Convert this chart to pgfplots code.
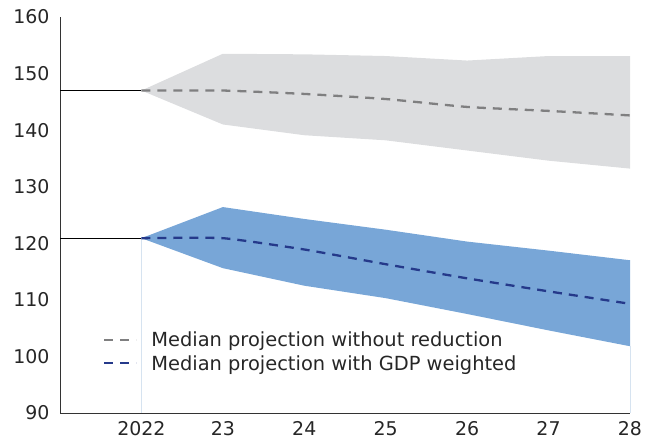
\documentclass[border=0pt]{standalone}
\usepackage{fontspec}
\setmainfont{DejaVu Sans}
\usepackage{pgfplots}
\pgfplotsset{compat=1.18}
\usepgfplotslibrary{fillbetween}
\definecolor{bandgrey}{HTML}{DCDDDF}
\definecolor{medgrey}{HTML}{7F7F80}
\definecolor{bandblue}{HTML}{78A6D7}
\definecolor{medblue}{HTML}{25398A}
\definecolor{faintblue}{HTML}{D6E3F0}
\definecolor{axisgrey}{HTML}{333333}
\begin{document}
\begin{tikzpicture}
\begin{axis}[
  scale only axis,
  width=570bp, height=396bp,
  xmin=2021, xmax=2028,
  ymin=90, ymax=160,
  axis x line*=bottom, axis y line*=left,
  axis line style={draw=axisgrey, line width=0.9pt, -},
  xtick={2022,...,2028},
  xticklabels={2022,23,24,25,26,27,28},
  ytick={90,100,...,160},
  major tick length=0pt,
  tick style={draw=none},
  /pgf/number format/assume math mode=true,
  tick label style={font=\fontsize{19}{22}\selectfont, text=black!85},
  yticklabel style={xshift=-7bp},
  xticklabel style={yshift=-5bp},
  legend style={at={(rel axis cs:0.07,0.215)}, anchor=north west, draw=none, fill=none,
    font=\fontsize{19.5}{23}\selectfont, text=black!85, row sep=3bp},
  legend cell align=left,
  legend image code/.code={\draw[#1, line width=2.2pt, dash pattern=on 9bp off 7bp] (0bp,0bp) -- (32bp,0bp); \path (44bp,0bp);},
  clip=false,
]
% grey band
\addplot[name path=gu, draw=none, forget plot] coordinates {
 (2022,147) (2023,153.5) (2024,153.4) (2025,153.1) (2026,152.3) (2027,153.1) (2028,153.1)};
\addplot[name path=gl, draw=none, forget plot] coordinates {
 (2022,147) (2023,141.0) (2024,139.1) (2025,138.2) (2026,136.4) (2027,134.6) (2028,133.2)};
\addplot[bandgrey, forget plot] fill between[of=gu and gl];
% blue band
\addplot[name path=bu, draw=none, forget plot] coordinates {
 (2022,120.9) (2023,126.4) (2024,124.3) (2025,122.4) (2026,120.3) (2027,118.7) (2028,117.0)};
\addplot[name path=bl, draw=none, forget plot] coordinates {
 (2022,120.9) (2023,115.6) (2024,112.5) (2025,110.3) (2026,107.5) (2027,104.6) (2028,101.8)};
\addplot[bandblue, forget plot] fill between[of=bu and bl];
% faint verticals
\addplot[faintblue, line width=0.8pt, forget plot] coordinates {(2022,120.9) (2022,90)};
\addplot[faintblue, line width=0.8pt, forget plot] coordinates {(2028,101.8) (2028,90)};
% history lines
\addplot[black, line width=0.8pt, forget plot] coordinates {(2021,147) (2022,147)};
\addplot[black, line width=0.8pt, forget plot] coordinates {(2021,120.9) (2022,120.9)};
% medians
\addplot[medgrey, line width=2.3pt, dash pattern=on 9bp off 7bp, smooth, tension=0.3] coordinates {
 (2022,147) (2023,147.0) (2024,146.4) (2025,145.5) (2026,144.1) (2027,143.4) (2028,142.6)};
\addlegendentry{Median projection without reduction}
\addplot[medblue, line width=2.3pt, dash pattern=on 9bp off 7bp, smooth, tension=0.3] coordinates {
 (2022,120.9) (2023,120.9) (2024,118.9) (2025,116.3) (2026,113.8) (2027,111.5) (2028,109.3)};
\addlegendentry{Median projection with GDP weighted}
\end{axis}
\pgfresetboundingbox
\path[use as bounding box] ([shift={(-60bp,-29bp)}]current axis.south west) rectangle ([shift={(17bp,17bp)}]current axis.north east);
\end{tikzpicture}
\end{document}
